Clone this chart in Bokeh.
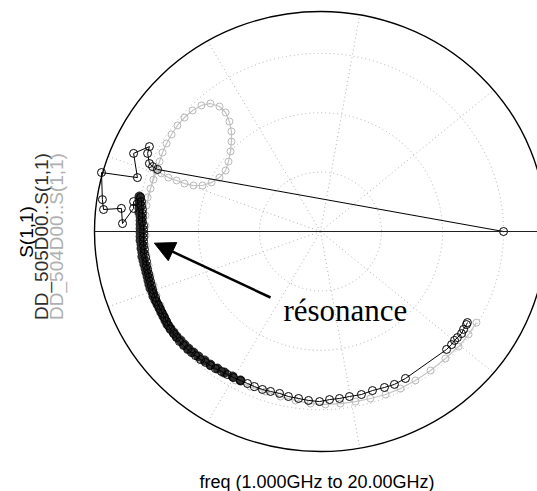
import numpy as np
from bokeh.plotting import figure
from bokeh.models import Label, Arrow, NormalHead
from bokeh.embed import file_html
from bokeh.resources import INLINE

# ---------------- data (reflection coefficient, real / imaginary) ----------------
s11_re = [0.810, -0.721, -0.743, -0.757, -0.765, -0.757, -0.827, -0.810, -0.969, -0.965,
          -0.960, -0.881, -0.876, -0.827, -0.827,
          -0.796, -0.792, -0.792, -0.788, -0.788, -0.788, -0.788, -0.783, -0.783, -0.783,
          -0.783, -0.783, -0.783, -0.779, -0.779, -0.774, -0.770, -0.770, -0.765, -0.761,
          -0.757, -0.752, -0.748, -0.743, -0.739, -0.730, -0.726, -0.717, -0.708, -0.699,
          -0.690, -0.681, -0.673, -0.664, -0.650, -0.637, -0.624, -0.606, -0.588, -0.571,
          -0.553, -0.531, -0.509, -0.487, -0.465, -0.438, -0.412, -0.385, -0.354, -0.323,
          -0.292, -0.257, -0.221, -0.181, -0.142, -0.097, -0.053, -0.004, 0.040, 0.084,
          0.128, 0.181, 0.230, 0.283, 0.327, 0.376, 0.558, 0.580, 0.593, 0.606,
          0.624, 0.633, 0.646, 0.650]
s11_im = [0.000, 0.282, 0.295, 0.309, 0.355, 0.386, 0.355, 0.245, 0.268, 0.145,
          0.100, 0.105, 0.036, 0.105, 0.136,
          0.155, 0.136, 0.118, 0.100, 0.082, 0.064, 0.045, 0.027, 0.009, -0.009,
          -0.027, -0.045, -0.064, -0.082, -0.100, -0.118, -0.136, -0.155, -0.173, -0.191,
          -0.209, -0.227, -0.245, -0.264, -0.282, -0.300, -0.318, -0.336, -0.355, -0.373,
          -0.391, -0.409, -0.427, -0.445, -0.464, -0.482, -0.500, -0.518, -0.536, -0.550,
          -0.564, -0.582, -0.595, -0.609, -0.623, -0.636, -0.650, -0.664, -0.677, -0.691,
          -0.705, -0.718, -0.727, -0.736, -0.750, -0.759, -0.768, -0.773, -0.764, -0.759,
          -0.750, -0.741, -0.723, -0.709, -0.695, -0.668, -0.536, -0.514, -0.495, -0.482,
          -0.464, -0.445, -0.423, -0.414]

dd505_re = [-0.801, -0.801, -0.801, -0.801, -0.801, -0.796, -0.796, -0.796, -0.796, -0.796,
            -0.796, -0.796, -0.792, -0.792, -0.788, -0.788, -0.783, -0.779, -0.774, -0.770,
            -0.765, -0.761, -0.757, -0.752, -0.743, -0.739, -0.730, -0.721, -0.712, -0.704,
            -0.695, -0.686, -0.677, -0.664, -0.650, -0.637, -0.619, -0.602, -0.584, -0.562,
            -0.540, -0.513, -0.487, -0.456, -0.425, -0.389, -0.354]
dd505_im = [0.159, 0.141, 0.123, 0.105, 0.086, 0.068, 0.050, 0.032, 0.014, -0.005,
            -0.023, -0.041, -0.059, -0.077, -0.095, -0.114, -0.132, -0.150, -0.168, -0.186,
            -0.205, -0.223, -0.241, -0.259, -0.277, -0.295, -0.314, -0.332, -0.350, -0.368,
            -0.386, -0.405, -0.423, -0.441, -0.459, -0.477, -0.495, -0.514, -0.532, -0.550,
            -0.568, -0.586, -0.605, -0.623, -0.641, -0.659, -0.677]

dd504_re = [-0.765, -0.752, -0.739, -0.726, -0.712, -0.699, -0.681, -0.659, -0.633, -0.602,
            -0.566, -0.527, -0.487, -0.447, -0.420, -0.403, -0.394, -0.394, -0.398, -0.407,
            -0.420, -0.447, -0.482, -0.522, -0.562, -0.602, -0.637, -0.673, -0.704, -0.730,
            -0.770, -0.774, -0.774, -0.774, -0.774, -0.770, -0.761, -0.752, -0.739, -0.726,
            -0.708, -0.690, -0.668, -0.642, -0.611, -0.575, -0.531, -0.487, -0.434, -0.376,
            -0.310, -0.243, -0.177, -0.111, -0.044, 0.022, 0.088, 0.155, 0.221, 0.288,
            0.354, 0.420, 0.487, 0.553, 0.611, 0.655, 0.690]
dd504_im = [0.155, 0.195, 0.236, 0.277, 0.318, 0.359, 0.400, 0.441, 0.482, 0.518,
            0.550, 0.573, 0.582, 0.568, 0.541, 0.500, 0.455, 0.409, 0.364, 0.318,
            0.277, 0.245, 0.223, 0.209, 0.209, 0.218, 0.232, 0.245, 0.264, 0.286,
            0.118, 0.073, 0.027, -0.018, -0.064, -0.109, -0.155, -0.200, -0.245, -0.291,
            -0.336, -0.382, -0.427, -0.468, -0.509, -0.545, -0.582, -0.614, -0.645, -0.677,
            -0.705, -0.727, -0.750, -0.768, -0.782, -0.786, -0.782, -0.773, -0.759, -0.741,
            -0.714, -0.677, -0.632, -0.577, -0.523, -0.468, -0.414]

grid_radii = [0.27, 0.54, 0.81]
spoke_deg = [40, 80, 120, 160, 200, 240, 280, 320]

legend_labels = ["S(1,1)", "DD_505D00..S(1,1)", "DD_504D00..S(1,1)"]
legend_colors = ["#000000", "#303030", "#b0b0b0"]
x_label = "freq (1.000GHz to 20.00GHz)"
annotation_text = "résonance"

# ---------------- figure ----------------
W, H = 537, 491
p = figure(width=W, height=H, x_range=(-1.4159, 0.9602), y_range=(-1.1818, 1.05),
           x_axis_type=None, y_axis_type=None, output_backend="svg",
           toolbar_location=None, min_border=0)
p.grid.visible = False
p.outline_line_color = None
p.background_fill_color = "white"
p.border_fill_color = "white"

grid_color = "#b0b0b0"
# constant |gamma| circles
p.ellipse(x=[0] * len(grid_radii), y=[0] * len(grid_radii),
          width=[2 * r for r in grid_radii], height=[2 * r for r in grid_radii],
          fill_alpha=0, line_color=grid_color, line_dash="1 3", line_width=1)
# radial spokes
ang = np.radians(spoke_deg)
p.segment(x0=[0] * len(ang), y0=[0] * len(ang), x1=np.cos(ang), y1=np.sin(ang),
          line_color=grid_color, line_dash="1 3", line_width=1)

# traces
p.line(dd504_re, dd504_im, line_color="#c4c4c4", line_width=1.2)
p.scatter(dd504_re, dd504_im, marker="circle", size=7, fill_alpha=0,
          line_color="#b8b8b8", line_width=1)

p.line(dd505_re, dd505_im, line_color="#303030", line_width=1.5)
p.scatter(dd505_re, dd505_im, marker="circle", size=9, fill_color="#303030",
          line_color="#202020", line_width=1)

p.line(s11_re, s11_im, line_color="black", line_width=1)
p.scatter(s11_re, s11_im, marker="circle", size=8, fill_alpha=0,
          line_color="black", line_width=1)

# outer circle and real axis
p.ellipse(x=[0], y=[0], width=[2], height=[2], fill_alpha=0,
          line_color="black", line_width=1.4)
p.segment(x0=[-1], y0=[0], x1=[1], y1=[0], line_color="#202020", line_width=1)

# annotation arrow + text
p.add_layout(Arrow(end=NormalHead(size=20, fill_color="black", line_color="black"),
                   x_start=-0.221, y_start=-0.300, x_end=-0.735, y_end=-0.053,
                   line_width=2.5, line_color="black"))
p.add_layout(Label(x=-0.164, y=-0.359, text=annotation_text, text_font="Liberation Serif",
                   text_font_size="31px", text_color="black",
                   text_align="left", text_baseline="alphabetic"))

# rotated legend labels on the left (screen px from bottom-left)
leg_x = [25.5, 41, 55.5]
leg_y = [259.5, 255, 255]
for txt, col, lx, ly in zip(legend_labels, legend_colors, leg_x, leg_y):
    p.add_layout(Label(x=lx, y=ly, x_units="screen", y_units="screen", text=txt,
                       angle=np.pi / 2, text_align="center", text_baseline="middle",
                       text_font="Liberation Sans", text_font_size="19px",
                       text_color=col))

# bottom x label
p.add_layout(Label(x=316.5, y=10, x_units="screen", y_units="screen", text=x_label,
                   text_align="center", text_baseline="alphabetic",
                   text_font="Liberation Sans", text_font_size="18px",
                   text_color="black"))

open("out.html", "w").write(file_html(p, INLINE))
